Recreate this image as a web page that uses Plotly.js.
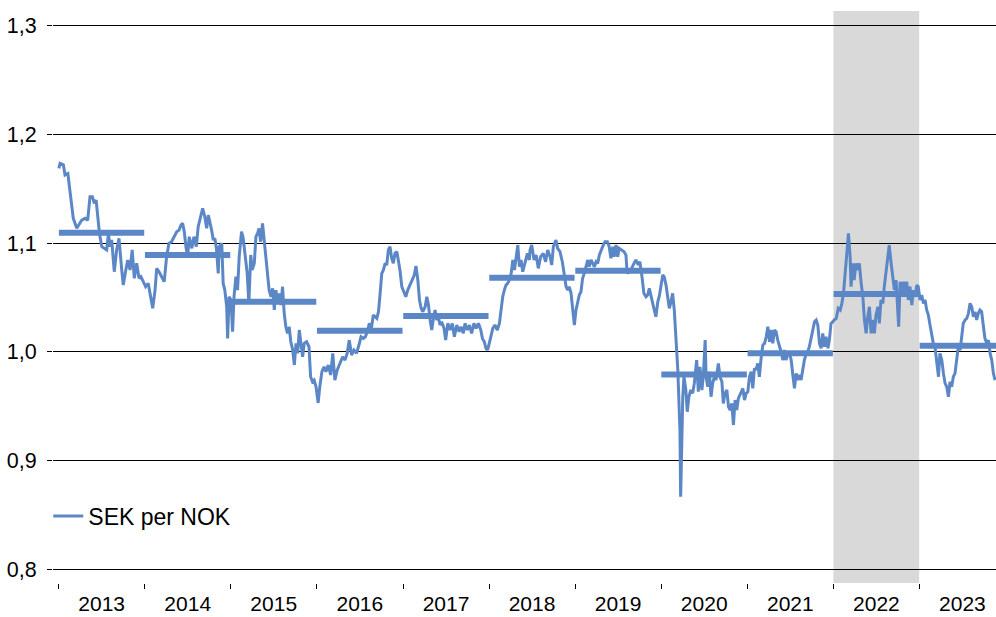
<!DOCTYPE html>
<html>
<head>
<meta charset="utf-8">
<script src="https://cdn.plot.ly/plotly-3.0.1.min.js"></script>
<style>html,body{margin:0;padding:0;background:#fff;}#chart{width:996px;height:617px;}</style>
</head>
<body>
<div id="chart"></div>
<script>
// Daily SEK per NOK, time given as decimal year
const decYears = [
 2013.003,2013.017,2013.056,2013.076,2013.107,2013.122,2013.153,2013.172,2013.211,2013.238,2013.270,2013.308,2013.339,2013.366,2013.393,2013.416,2013.436,2013.455,2013.474,2013.502,2013.532,2013.560,2013.579,2013.598,2013.618,2013.648,2013.676,2013.703,2013.734,2013.753,2013.781,2013.804,2013.831,2013.857,2013.881,2013.909,2013.935,2013.958,2013.985,
 2014.013,2014.043,2014.071,2014.094,2014.121,2014.141,2014.168,2014.199,2014.229,2014.257,2014.284,2014.315,2014.345,2014.373,2014.400,2014.423,2014.443,2014.462,2014.481,2014.501,2014.520,2014.548,2014.574,2014.601,2014.624,2014.652,2014.675,2014.699,2014.722,2014.740,2014.760,2014.780,2014.798,2014.818,2014.838,2014.857,2014.868,2014.896,2014.915,2014.934,2014.954,2014.966,2014.981,
 2015.004,2015.024,2015.039,2015.062,2015.082,2015.101,2015.128,2015.147,2015.170,2015.193,2015.213,2015.233,2015.252,2015.275,2015.295,2015.314,2015.329,2015.349,2015.372,2015.391,2015.411,2015.430,2015.449,2015.469,2015.489,2015.507,2015.527,2015.547,2015.565,2015.585,2015.605,2015.623,2015.643,2015.663,2015.681,2015.701,2015.721,2015.740,2015.759,2015.779,2015.798,2015.817,2015.837,2015.856,2015.884,2015.910,2015.930,2015.953,2015.972,2015.992,
 2016.018,2016.038,2016.061,2016.085,2016.108,2016.135,2016.162,2016.186,2016.212,2016.239,2016.270,2016.302,2016.329,2016.355,2016.379,2016.406,2016.433,2016.464,2016.491,2016.514,2016.541,2016.564,2016.588,2016.611,2016.634,2016.657,2016.697,2016.716,2016.735,2016.755,2016.774,2016.793,2016.813,2016.832,2016.851,2016.871,2016.890,2016.909,2016.929,2016.948,2016.967,2016.987,
 2017.014,2017.034,2017.057,2017.084,2017.110,2017.134,2017.153,2017.173,2017.192,2017.212,2017.231,2017.258,2017.278,2017.296,2017.316,2017.336,2017.354,2017.374,2017.394,2017.413,2017.432,2017.452,2017.479,2017.498,2017.522,2017.548,2017.575,2017.598,2017.626,2017.653,2017.676,2017.703,2017.723,2017.749,2017.773,2017.800,2017.827,2017.851,2017.877,2017.905,2017.924,2017.947,2017.967,2017.986,
 2018.005,2018.025,2018.045,2018.071,2018.098,2018.121,2018.141,2018.161,2018.179,2018.199,2018.219,2018.237,2018.258,2018.277,2018.296,2018.315,2018.335,2018.354,2018.373,2018.393,2018.420,2018.447,2018.470,2018.478,2018.498,2018.524,2018.548,2018.574,2018.602,2018.632,2018.660,2018.684,2018.710,2018.730,2018.749,2018.780,2018.800,2018.826,2018.853,2018.876,2018.896,2018.916,2018.934,2018.954,2018.974,2018.993,
 2019.012,2019.032,2019.051,2019.070,2019.090,2019.109,2019.128,2019.148,2019.167,2019.187,2019.206,2019.225,2019.245,2019.264,2019.283,2019.303,2019.323,2019.349,2019.376,2019.399,2019.419,2019.439,2019.457,2019.477,2019.497,2019.515,2019.543,2019.570,2019.593,2019.608,2019.632,2019.659,2019.686,2019.709,2019.736,2019.756,2019.779,2019.802,2019.826,2019.845,2019.864,2019.884,2019.904,2019.922,2019.942,2019.962,2019.980,
 2020.000,2020.020,2020.038,2020.058,2020.078,2020.096,2020.116,2020.136,2020.155,2020.171,2020.182,2020.194,2020.206,2020.221,2020.229,2020.240,2020.252,2020.267,2020.287,2020.305,2020.325,2020.345,2020.368,2020.387,2020.415,2020.433,2020.453,2020.473,2020.491,2020.511,2020.523,2020.542,2020.561,2020.581,2020.600,2020.619,2020.639,2020.666,2020.685,2020.705,2020.724,2020.743,2020.763,2020.782,2020.801,2020.821,2020.840,2020.859,2020.879,2020.898,2020.926,2020.949,2020.968,2020.988,
 2021.007,2021.026,2021.046,2021.065,2021.084,2021.104,2021.123,2021.142,2021.162,2021.181,2021.200,2021.220,2021.240,2021.258,2021.278,2021.298,2021.316,2021.336,2021.356,2021.374,2021.394,2021.414,2021.432,2021.452,2021.472,2021.491,2021.510,2021.530,2021.549,2021.569,2021.588,2021.607,2021.626,2021.646,2021.665,2021.685,2021.704,2021.723,2021.743,2021.763,2021.781,2021.801,2021.821,2021.839,2021.859,2021.879,2021.897,2021.917,2021.937,2021.955,2021.975,2021.995,
 2022.010,2022.033,2022.060,2022.080,2022.099,2022.118,2022.138,2022.157,2022.176,2022.196,2022.207,2022.227,2022.242,2022.265,2022.285,2022.304,2022.324,2022.343,2022.362,2022.382,2022.402,2022.420,2022.440,2022.460,2022.478,2022.498,2022.518,2022.536,2022.556,2022.576,2022.594,2022.614,2022.634,2022.652,2022.672,2022.692,2022.710,2022.730,2022.750,2022.761,2022.777,2022.796,2022.815,2022.835,2022.854,2022.873,2022.893,2022.913,2022.931,2022.951,2022.971,2022.989,
 2023.009,2023.029,2023.047,2023.067,2023.087,2023.105,2023.125,2023.145,2023.163,2023.183,2023.203,2023.222,2023.241,2023.261,2023.280,2023.300,2023.319,2023.338,2023.357,2023.377,2023.396,2023.416,2023.435,2023.454,2023.474,2023.493,2023.512,2023.532,2023.552,2023.570,2023.590,2023.610,2023.628,2023.648,2023.668,2023.686,2023.706,2023.726,2023.744,2023.764,2023.784,2023.803,2023.822,2023.842,2023.861,2023.880
];
const sekPerNok = [
 1.1688,1.1734,1.1720,1.1627,1.1640,1.1550,1.1335,1.1228,1.1136,1.1166,1.1212,1.1228,1.1210,1.1427,1.1427,1.1366,1.1396,1.1243,1.1090,1.0967,1.0952,1.0937,1.1090,1.0967,1.1029,1.0737,1.0937,1.1044,1.0768,1.0615,1.0753,1.0845,1.0753,1.0937,1.0676,1.0814,1.0676,1.0691,1.0645,
 1.0599,1.0630,1.0507,1.0400,1.0568,1.0768,1.0737,1.0691,1.0645,1.0875,1.0998,1.1013,1.1059,1.1105,1.1120,1.1166,1.1182,1.1105,1.0967,1.0875,1.1059,1.0952,1.1059,1.0967,1.1151,1.1228,1.1320,1.1243,1.1136,1.1258,1.1197,1.1120,1.1029,1.1044,1.0937,1.0722,1.0967,1.0998,1.0630,1.0568,1.0415,1.0124,1.0507,
 1.0477,1.0185,1.0507,1.0691,1.0568,1.0875,1.1105,1.1044,1.0875,1.0722,1.0446,1.0891,1.0753,1.0814,1.1059,1.1090,1.1136,1.1013,1.1182,1.1029,1.0875,1.0676,1.0568,1.0507,1.0584,1.0385,1.0568,1.0446,1.0538,1.0430,1.0599,1.0354,1.0231,1.0170,1.0231,1.0093,1.0017,0.9879,1.0078,0.9986,1.0201,1.0078,0.9955,1.0078,1.0093,1.0047,0.9771,0.9725,0.9740,0.9679,
 0.9530,0.9680,0.9817,0.9863,0.9817,0.9879,0.9787,0.9986,0.9740,0.9833,0.9894,0.9955,0.9924,0.9986,1.0108,0.9971,1.0017,0.9986,1.0063,1.0139,1.0124,1.0139,1.0185,1.0262,1.0216,1.0339,1.0308,1.0369,1.0538,1.0722,1.0753,1.0814,1.0799,1.0937,1.0967,1.0860,1.0814,1.0906,1.0921,1.0845,1.0753,1.0599,
 1.0553,1.0507,1.0568,1.0614,1.0660,1.0707,1.0789,1.0660,1.0477,1.0400,1.0369,1.0415,1.0507,1.0430,1.0293,1.0201,1.0308,1.0385,1.0293,1.0323,1.0247,1.0277,1.0216,1.0108,1.0262,1.0201,1.0262,1.0139,1.0247,1.0185,1.0231,1.0170,1.0262,1.0201,1.0247,1.0170,1.0262,1.0216,1.0262,1.0201,1.0124,1.0093,1.0032,1.0017,
 1.0078,1.0170,1.0216,1.0247,1.0201,1.0262,1.0385,1.0507,1.0568,1.0614,1.0630,1.0660,1.0722,1.0845,1.0753,1.0875,1.0982,1.0783,1.0845,1.0737,1.0814,1.0906,1.0845,1.0937,1.0982,1.0845,1.0890,1.0768,1.0875,1.0906,1.0829,1.0937,1.0875,1.0799,1.0967,1.1029,1.0952,1.0921,1.0829,1.0722,1.0599,1.0568,1.0599,1.0538,1.0415,1.0247,
 1.0385,1.0461,1.0523,1.0553,1.0676,1.0722,1.0783,1.0845,1.0783,1.0845,1.0814,1.0783,1.0829,1.0814,1.0890,1.0921,1.0967,1.1013,1.1013,1.0967,1.0860,1.0967,1.0875,1.0982,1.0875,1.0952,1.0937,1.0921,1.0890,1.0722,1.0737,1.0768,1.0814,1.0845,1.0799,1.0829,1.0691,1.0538,1.0507,1.0523,1.0584,1.0507,1.0430,1.0385,1.0323,1.0461,1.0507,
 1.0630,1.0707,1.0691,1.0614,1.0507,1.0400,1.0461,1.0538,1.0385,1.0216,1.0017,0.9833,0.9557,0.9281,0.8667,0.9219,0.9587,0.9771,0.9649,0.9449,0.9587,0.9649,0.9618,0.9710,0.9924,0.9633,0.9863,0.9649,0.9771,1.0108,0.9771,0.9679,0.9817,0.9587,0.9710,0.9771,0.9740,0.9894,0.9771,0.9725,0.9526,0.9618,0.9649,0.9495,0.9465,0.9526,0.9327,0.9557,0.9465,0.9572,0.9618,0.9664,0.9557,0.9618,
 0.9633,0.9771,0.9817,0.9664,0.9848,0.9833,0.9894,0.9771,0.9955,1.0063,1.0078,1.0139,1.0231,1.0093,1.0201,1.0078,1.0201,1.0185,1.0108,1.0063,1.0001,0.9924,1.0017,0.9924,0.9986,0.9986,0.9924,0.9787,0.9664,0.9802,0.9740,0.9787,0.9740,0.9833,0.9924,0.9986,1.0001,1.0047,1.0139,1.0231,1.0277,1.0293,1.0247,1.0078,1.0032,1.0170,1.0047,1.0139,1.0032,1.0108,1.0262,1.0277,
 1.0293,1.0308,1.0400,1.0385,1.0446,1.0538,1.0691,1.0906,1.1090,1.0875,1.0599,1.0814,1.0660,1.0814,1.0753,1.0814,1.0630,1.0507,1.0293,1.0170,1.0323,1.0415,1.0170,1.0293,1.0170,1.0339,1.0415,1.0262,1.0477,1.0446,1.0599,1.0753,1.0875,1.0982,1.0814,1.0660,1.0568,1.0660,1.0446,1.0231,1.0645,1.0538,1.0645,1.0553,1.0645,1.0477,1.0599,1.0430,1.0568,1.0507,1.0614,1.0599,
 1.0477,1.0523,1.0446,1.0477,1.0385,1.0339,1.0247,1.0139,1.0078,1.0047,0.9924,0.9771,0.9986,0.9924,0.9802,0.9710,0.9679,0.9587,0.9725,0.9679,0.9771,0.9802,0.9924,1.0047,1.0017,1.0108,1.0262,1.0293,1.0308,1.0354,1.0446,1.0415,1.0323,1.0369,1.0293,1.0354,1.0385,1.0369,1.0231,1.0124,1.0078,1.0108,0.9986,0.9924,0.9802,0.9740
];

// Annual averages
const avgYears = [2013, 2014, 2015, 2016, 2017, 2018, 2019, 2020, 2021, 2022, 2023];
const avgValues = [1.1096, 1.0890, 1.0461, 1.0194, 1.0329, 1.0682, 1.0746, 0.9791, 0.9986, 1.0532, 1.0056];

const yTickVals = [0.8, 0.9, 1.0, 1.1, 1.2, 1.3];
const yTickText = ['0,8', '0,9', '1,0', '1,1', '1,2', '1,3'];
const shadeStart = '2022-01-01', shadeEnd = '2022-12-31';
const seriesName = 'SEK per NOK';

function decToDate(d) {
  const y = Math.floor(d);
  const s = Date.UTC(y, 0, 1), e = Date.UTC(y + 1, 0, 1);
  return new Date(s + (d - y) * (e - s)).toISOString().slice(0, 10);
}

const dates = decYears.map(decToDate);
const blue = '#5b87c6';

const avgX = [], avgY = [];
avgYears.forEach((y, i) => {
  avgX.push(y + '-01-02', y + '-12-30', null);
  avgY.push(avgValues[i], avgValues[i], null);
});

const traces = [
  {x: dates, y: sekPerNok, type: 'scatter', mode: 'lines', name: seriesName,
   line: {color: blue, width: 3}, hoverinfo: 'skip'},
  {x: avgX, y: avgY, type: 'scatter', mode: 'lines', showlegend: false,
   line: {color: blue, width: 6}, connectgaps: false, hoverinfo: 'skip'}
];

const layout = {
  width: 996, height: 617,
  margin: {l: 53, r: 0, t: 11, b: 34},
  paper_bgcolor: '#fff', plot_bgcolor: '#fff',
  font: {family: 'Liberation Sans, Arial, sans-serif', size: 21.5, color: '#000'},
  showlegend: true,
  legend: {x: -0.005, y: 0.117, xanchor: 'left', yanchor: 'middle',
           bgcolor: 'rgba(0,0,0,0)', font: {size: 23, color: '#000'}},
  xaxis: {
    type: 'date', range: ['2012-12-08', '2023-11-22'],
    tick0: '2013-01-01', dtick: 'M12', tickformat: '%Y', ticklabelmode: 'period',
    ticks: 'outside', ticklen: 5, tickwidth: 1, tickcolor: '#000',
    tickfont: {size: 21}, ticklabelstandoff: -3,
    showgrid: false, zeroline: false, showline: false, fixedrange: true
  },
  yaxis: {
    range: [0.7874, 1.3135], tickvals: yTickVals, ticktext: yTickText,
    ticks: 'outside', ticklen: 5, tickwidth: 1, tickcolor: '#000',
    showgrid: true, gridcolor: '#000', gridwidth: 1,
    zeroline: false, showline: false, ticklabelstandoff: 6, fixedrange: true
  },
  shapes: [{type: 'rect', xref: 'x', yref: 'paper', x0: shadeStart, x1: shadeEnd,
            y0: 0, y1: 1, fillcolor: '#d9d9d9', line: {width: 0}, layer: 'below'}]
};

Plotly.newPlot('chart', traces, layout, {displayModeBar: false, staticPlot: true});
</script>
</body>
</html>
